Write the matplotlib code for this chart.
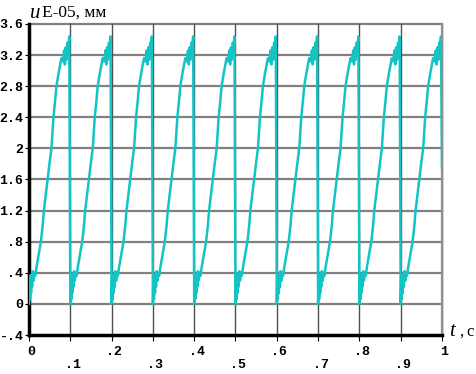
import numpy as np
from matplotlib import pyplot as plt

# one period of the displacement (t offset in s, u in E-05 mm)
cycle_t = [0.000, 0.0015, 0.0025, 0.0040, 0.0050, 0.0065, 0.0075, 0.0090, 0.0110,
           0.0130, 0.0150, 0.0184, 0.0230, 0.0288, 0.0330, 0.0360, 0.0400, 0.0448,
           0.0500, 0.0544, 0.0592, 0.0630, 0.0664, 0.0720, 0.0784, 0.0820, 0.0850,
           0.0870, 0.0890, 0.0910, 0.0935, 0.0950, 0.0975]
cycle_u = [0.00, 0.36, 0.06, 0.33, 0.14, 0.38, 0.22, 0.42, 0.30,
           0.40, 0.36, 0.48, 0.62, 0.80, 1.00, 1.20, 1.38, 1.60,
           1.82, 2.00, 2.40, 2.60, 2.80, 2.98, 3.16, 3.12, 3.26,
           3.08, 3.30, 3.14, 3.36, 3.28, 3.44]
cycle_starts = [0.0, 0.1, 0.2, 0.3, 0.4, 0.5, 0.6, 0.7, 0.8, 0.9]
end_t, end_u = 1.0, 1.75

xticks = [0, .1, .2, .3, .4, .5, .6, .7, .8, .9, 1]
xtick_labels = ['0', '.1', '.2', '.3', '.4', '.5', '.6', '.7', '.8', '.9', '1']
yticks = [-0.4, 0, 0.4, 0.8, 1.2, 1.6, 2.0, 2.4, 2.8, 3.2, 3.6]
ytick_labels = ['-.4', '0', '.4', '.8', '1.2', '1.6', '2', '2.4', '2.8', '3.2', '3.6']

t, u = [], []
for s in cycle_starts:
    t += [s + c for c in cycle_t]
    u += cycle_u
t.append(end_t)
u.append(end_u)

fig = plt.figure(figsize=(4.77, 3.74), dpi=100)
ax = fig.add_axes([29/477, 1-335/374, (442-29)/477, (335-24)/374])

for y in yticks[1:]:
    ax.axhline(y, color='#808080', lw=1.6, zorder=1, clip_on=False)
for x in xticks[1:]:
    ax.axvline(x, color='#505050', lw=1.0, zorder=1, clip_on=False)
ax.axvline(1.0, color='#909090', lw=1.6, zorder=1, clip_on=False)

ax.plot(t, u, color='#12C4C4', lw=1.8, zorder=3)

ax.set_xlim(0, 1)
ax.set_ylim(-0.4, 3.6)
for side in ['top', 'right']:
    ax.spines[side].set_visible(False)
ax.spines['left'].set_linewidth(2.5)
ax.spines['bottom'].set_linewidth(2.5)

mono = dict(family='Liberation Mono', weight='bold', size=9.5)
ax.set_yticks(yticks)
ax.set_yticklabels(ytick_labels, fontdict=mono)
ax.set_xticks(xticks)
ax.set_xticklabels([], fontdict=mono)
ax.tick_params(axis='y', length=3, width=0.8, pad=1)
ax.tick_params(axis='x', length=4, width=0.8, direction='out')
for i, (x, lab) in enumerate(zip(xticks, xtick_labels)):
    yoff = -0.62 if i % 2 == 0 else -0.79
    ax.text(x + 0.006, yoff, lab, ha='center', va='center', clip_on=False, **mono)

serif = 'Liberation Serif'
fig.text(30/477, 1-13/374, 'u', fontsize=15, family=serif,
         va='center', ha='left', style='italic')
fig.text(42/477, 1-13/374, 'E-05, мм', fontsize=12.5, family=serif,
         va='center', ha='left')
fig.text(449/477, 1-331/374, 't', fontsize=15, family=serif,
         style='italic', va='center', ha='left')
fig.text(459/477, 1-332/374, ',', fontsize=12, family=serif,
         va='center', ha='left')
fig.text(466/477, 1-332/374, 'c', fontsize=12, family=serif,
         va='center', ha='left')

fig.savefig('out.png', dpi=100)
